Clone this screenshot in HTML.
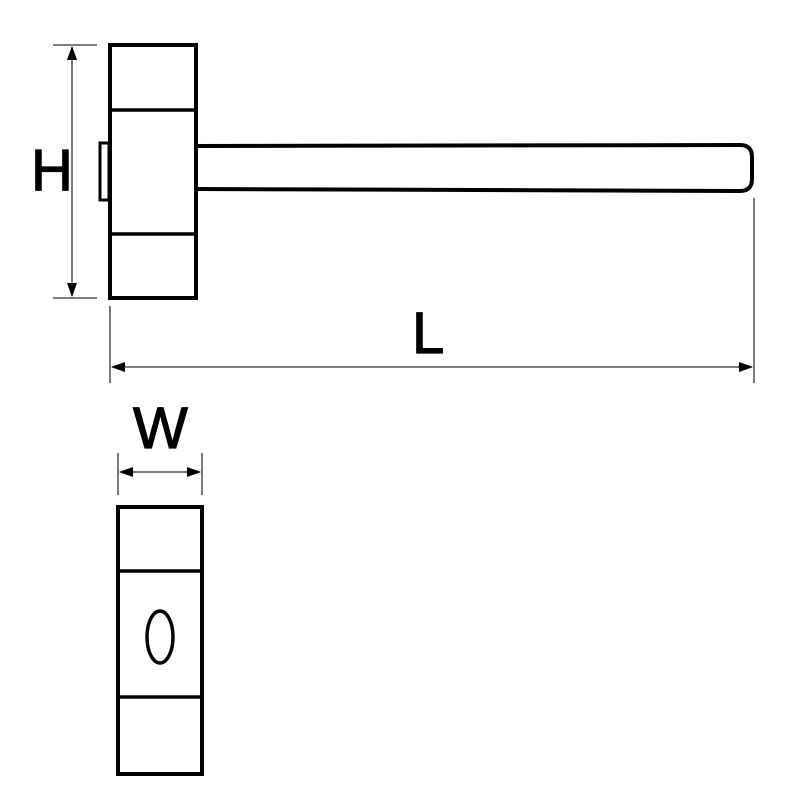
<!DOCTYPE html>
<html><head><style>body{margin:0;background:#fff}</style></head><body>
<svg width="800" height="800" xmlns="http://www.w3.org/2000/svg">
<defs>
<marker id="a" markerWidth="14" markerHeight="10" refX="13" refY="5" orient="auto" markerUnits="userSpaceOnUse"><path d="M0,0 L14,5 L0,10 z" fill="#000"/></marker>
</defs>
<g fill="none" stroke="#000">
<path d="M195,146 L740,145 Q752,145 752,157 L752,179 Q752,191 740,191 L195,189" stroke-width="4" fill="#fff"/>
<rect x="110" y="45" width="86" height="253" stroke-width="4" fill="#fff"/>
<line x1="110" y1="110" x2="196" y2="110" stroke-width="3.5"/>
<line x1="110" y1="234" x2="196" y2="234" stroke-width="3.5"/>
<rect x="100" y="143" width="9" height="57" stroke-width="3"/>
<g stroke-width="1.3" stroke="#333">
<line x1="53" y1="45" x2="97" y2="45"/>
<line x1="53" y1="298" x2="97" y2="298"/>
<line x1="72" y1="55" x2="72" y2="288"/>
<line x1="72" y1="60" x2="72" y2="47" marker-end="url(#a)"/>
<line x1="72" y1="283" x2="72" y2="296" marker-end="url(#a)"/>
<line x1="110" y1="306" x2="110" y2="383"/>
<line x1="754" y1="198" x2="754" y2="383"/>
<line x1="120" y1="367" x2="744" y2="367"/>
<line x1="125" y1="367" x2="112" y2="367" marker-end="url(#a)"/>
<line x1="738" y1="367" x2="752" y2="367" marker-end="url(#a)"/>
<line x1="118" y1="453" x2="118" y2="495"/>
<line x1="202" y1="453" x2="202" y2="495"/>
<line x1="125" y1="472" x2="195" y2="472"/>
<line x1="134" y1="472" x2="120" y2="472" marker-end="url(#a)"/>
<line x1="186" y1="472" x2="200" y2="472" marker-end="url(#a)"/>
</g>
<rect x="118" y="507" width="84" height="267" stroke-width="4"/>
<line x1="118" y1="571" x2="202" y2="571" stroke-width="3.5"/>
<line x1="118" y1="697" x2="202" y2="697" stroke-width="3.5"/>
<ellipse cx="160" cy="637" rx="13" ry="26" stroke-width="3.5"/>
</g>
<g font-family="Liberation Sans, sans-serif" font-size="58" fill="#000" stroke="#000" stroke-width="1.2">
<text x="31" y="190">H</text>
<text x="133" y="448">W</text>
<text x="412" y="353">L</text>
</g>
</svg>
</body></html>
